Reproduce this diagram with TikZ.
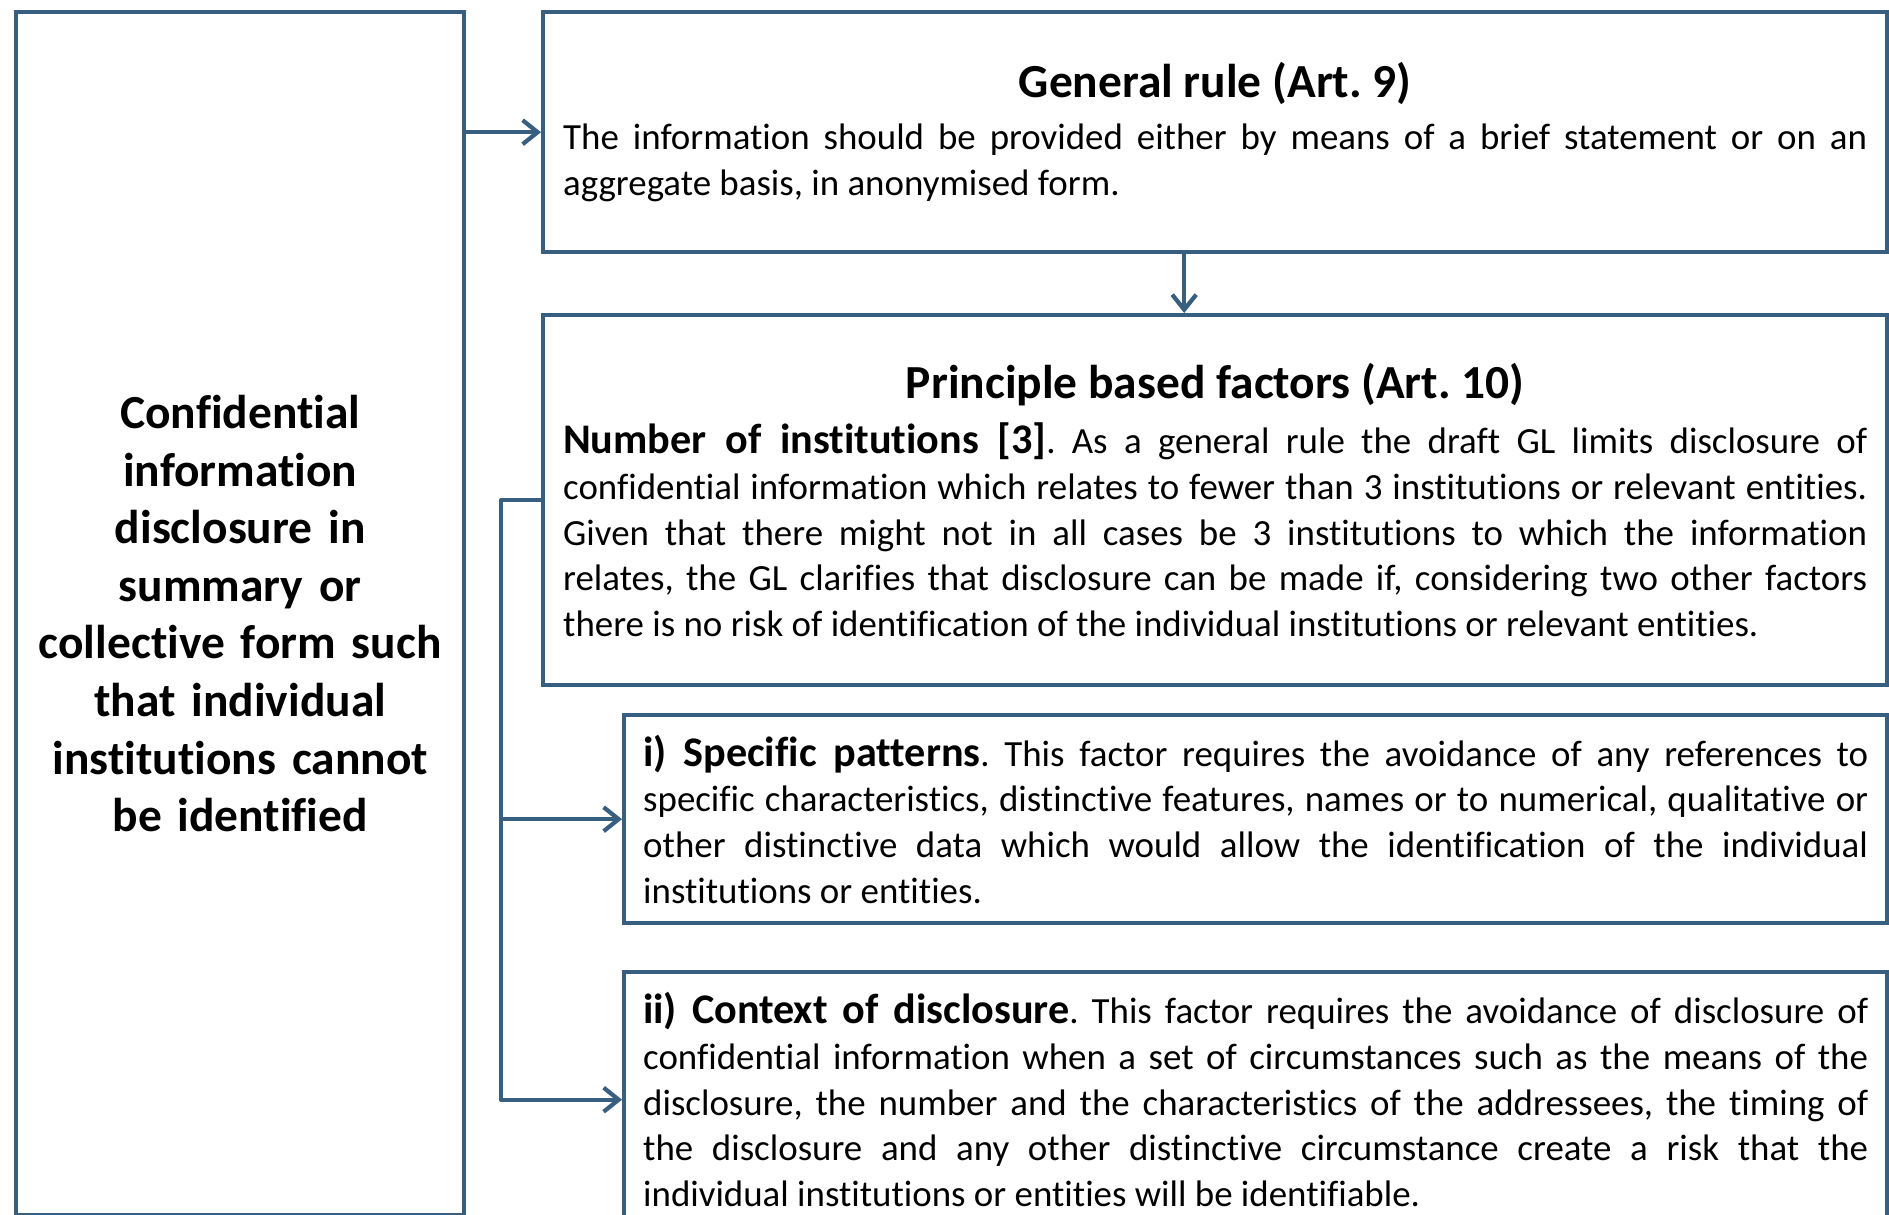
\documentclass[tikz,border=0pt]{standalone}
\usepackage{fontspec}
\setmainfont{Carlito}[Ligatures=NoCommon]
\usetikzlibrary{arrows.meta}
\definecolor{edgeblue}{RGB}{56,94,128}
\newcommand\headfont{\fontsize{13.5}{16.4}\selectfont\bfseries}
\newcommand\leadfont{\fontsize{12}{13}\selectfont\bfseries}
\newcommand\bodyfont{\fontsize{10.5}{13}\selectfont}
\hyphenpenalty=10000
\frenchspacing
\tikzset{
  box/.style={draw=edgeblue, line width=1.25pt, inner xsep=2mm, inner ysep=0pt,
    anchor=north west, font=\bodyfont, align=justify},
  conn/.style={draw=edgeblue, line width=1.2pt, line join=round,
    -{Straight Barb[length=1.5mm,width=2.4mm]}},
}
\begin{document}
\begin{tikzpicture}[x=0.1mm,y=-0.1mm]
\useasboundingbox (0,0) rectangle (1889,1215);
\clip (0,0) rectangle (1889,1215);
% left column
\node[box, align=center, font=\headfont, text width=40.8mm, minimum width=44.8mm,
  minimum height=120.3mm] (summary) at (14,10)
  {Confidential\\information\\disclosure in\\summary or\\collective form such\\that individual\\institutions cannot\\be identified};
% right column
\node[box, text width=130.4mm, minimum height=24mm] (general) at (541,10)
  {{\centering\headfont General rule (Art. 9)\par}\vspace{1.8pt}
   The information should be provided either by means of a brief statement or on an\linebreak
   aggregate basis, in anonymised form.};
\node[box, text width=130.4mm, minimum height=37mm] (principle) at (541,313)
  {{\centering\headfont Principle based factors (Art. 10)\par}\vspace{2.7pt}
   {\leadfont Number of institutions [3]}. As a general rule the draft GL limits disclosure of\linebreak
   confidential information which relates to fewer than 3 institutions or relevant entities.\linebreak
   Given that there might not in all cases be 3 institutions to which the information\linebreak
   relates, the GL clarifies that disclosure can be made if, considering two other factors\linebreak
   there is no risk of identification of the individual institutions or relevant entities.};
\node[box, inner xsep=1.9mm, text width=122.5mm, minimum height=20.8mm] (specific) at (622,713)
  {{\leadfont i) Specific patterns}. This factor requires the avoidance of any references to\linebreak
   specific characteristics, distinctive features, names or to numerical, qualitative or\linebreak
   other distinctive data which would allow the identification of the individual\linebreak
   institutions or entities.};
\node[box, inner xsep=1.9mm, text width=122.5mm, minimum height=25.5mm] (context) at (622,970)
  {{\leadfont ii) Context of disclosure}. This factor requires the avoidance of disclosure of\linebreak
   confidential information when a set of circumstances such as the means of the\linebreak
   disclosure, the number and the characteristics of the addressees, the timing of\linebreak
   the disclosure and any other distinctive circumstance create a risk that the\linebreak
   individual institutions or entities will be identifiable.};
% connectors
\draw[conn] (summary.east |- general.west) -- (general.west);
\draw[conn] ([xshift=-3.1mm]general.south) -- ([xshift=-3.1mm]principle.north);
\draw[conn] (principle.west) -- ++(-4mm,0) coordinate (split) |- (specific.west);
\draw[conn] (split) |- (context.west);
\end{tikzpicture}
\end{document}
